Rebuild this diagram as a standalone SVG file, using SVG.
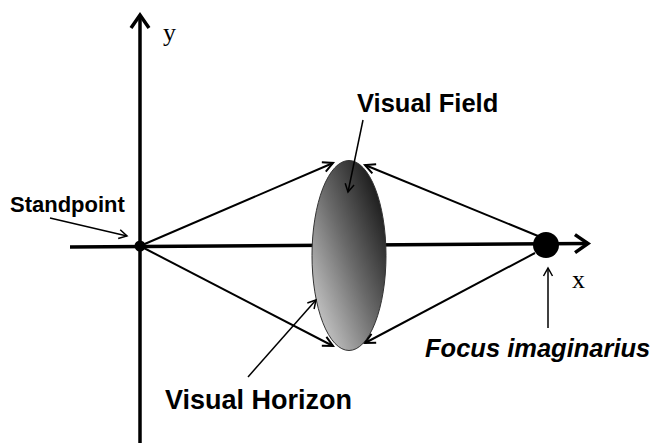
<svg xmlns="http://www.w3.org/2000/svg" width="653" height="443" viewBox="0 0 653 443">
  <style>
    .axis { stroke:#000; stroke-width:3.5; fill:none; }
    .ray { stroke:#000; stroke-width:2; fill:none; }
    .ptr { stroke:#000; stroke-width:1.5; fill:none; }
    .lbl { font-family:"Liberation Sans", Arial, sans-serif; font-weight:bold; fill:#000; }
    .ser { font-family:"Liberation Serif", "Times New Roman", serif; fill:#000; }
  </style>
  <defs>
    <marker id="axHead" markerUnits="userSpaceOnUse" viewBox="-18 -12 22 24" refX="0" refY="0" markerWidth="22" markerHeight="24" orient="auto">
      <path d="M-13,-9 L0,0 L-13,9" fill="none" stroke="#000" stroke-width="3.5" stroke-linejoin="miter"/>
    </marker>
    <marker id="rayHead" markerUnits="userSpaceOnUse" viewBox="-14 -8 16 16" refX="0" refY="0" markerWidth="16" markerHeight="16" orient="auto">
      <path d="M-10,-5 L0,0 L-10,5" fill="none" stroke="#000" stroke-width="2"/>
    </marker>
    <marker id="ptrHead" markerUnits="userSpaceOnUse" viewBox="-12 -7 14 14" refX="0" refY="0" markerWidth="14" markerHeight="14" orient="auto">
      <path d="M-8,-4.5 L0,0 L-8,4.5" fill="none" stroke="#000" stroke-width="1.5"/>
    </marker>
    <linearGradient id="fieldGrad" x1="0" y1="1" x2="1" y2="0">
      <stop offset="0" stop-color="#e0e0e0"/>
      <stop offset="0.5" stop-color="#6a6a6a"/>
      <stop offset="1" stop-color="#000"/>
    </linearGradient>
  </defs>

  <g id="axes">
    <line class="axis" x1="140" y1="443" x2="140" y2="15" marker-end="url(#axHead)"/>
    <line class="axis" x1="70" y1="247" x2="588" y2="243.5" marker-end="url(#axHead)"/>
  </g>

  <g id="visual-field">
    <ellipse cx="349" cy="255.5" rx="37" ry="95" fill="url(#fieldGrad)" stroke="#333" stroke-width="1"/>
  </g>

  <g id="standpoint">
    <circle cx="140" cy="246" r="5.5" fill="#000"/>
  </g>

  <g id="focus">
    <circle cx="546" cy="245" r="13" fill="#000"/>
  </g>

  <g id="connectors">
    <line class="ray" x1="140" y1="246" x2="333" y2="163" marker-end="url(#rayHead)"/>
    <line class="ray" x1="140" y1="246" x2="333" y2="346" marker-end="url(#rayHead)"/>
    <line class="ray" x1="538" y1="236" x2="365" y2="165" marker-end="url(#rayHead)"/>
    <line class="ray" x1="535" y1="253" x2="365" y2="343" marker-end="url(#rayHead)"/>
    <line class="ptr" x1="50" y1="218" x2="127" y2="236" marker-end="url(#ptrHead)"/>
    <line class="ptr" x1="363" y1="120" x2="348" y2="192" marker-end="url(#ptrHead)"/>
    <line class="ptr" x1="248" y1="377" x2="316" y2="300" marker-end="url(#ptrHead)"/>
    <line class="ptr" x1="548" y1="328" x2="548" y2="268" marker-end="url(#ptrHead)"/>
  </g>

  <g id="labels">
    <text class="ser" x="163" y="41" font-size="26">y</text>
    <text class="ser" x="572" y="288" font-size="26">x</text>
    <text class="lbl" x="10" y="212" font-size="22">Standpoint</text>
    <text class="lbl" x="357" y="112" font-size="25.5">Visual Field</text>
    <text class="lbl" x="165" y="409" font-size="27">Visual Horizon</text>
    <text class="lbl" x="425" y="357" font-size="25.5" font-style="italic">Focus imaginarius</text>
  </g>
</svg>
